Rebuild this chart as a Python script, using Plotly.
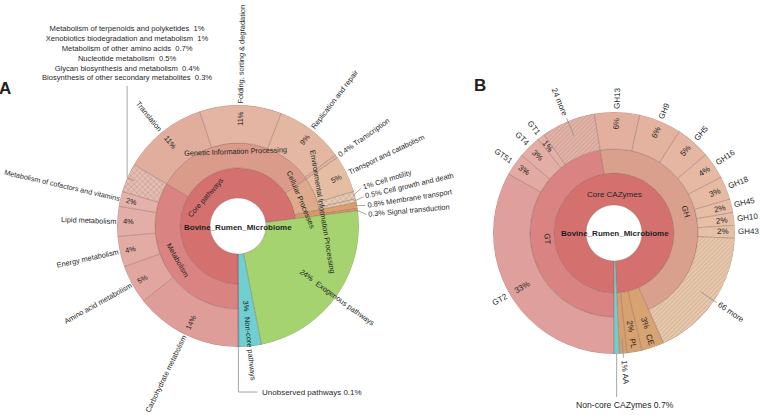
import math
import plotly.graph_objects as go

# ---------------- data: chart A (pathways) ----------------
A_root = "Bovine_Rumen_Microbiome"
A_core = "Core pathways"
A_groups = ["Metabolism", "Genetic Information Processing", "Cellular Processes",
            "Environmental Information Processing"]
A_met_names = ["Carbohydrate metabolism", "Amino acid metabolism", "Energy metabolism",
               "Lipid metabolism", "Metabolism of cofactors and vitamins"]
A_met_vals = [14.4, 5.2, 4.1, 4.0, 2.0]
A_minor_names = ["Metabolism of terpenoids and polyketides", "Xenobiotics biodegradation and metabolism",
                 "Metabolism of other amino acids", "Nucleotide metabolism",
                 "Glycan biosynthesis and metabolism", "Biosynthesis of other secondary metabolites"]
A_minor_vals = [1.0, 1.0, 0.7, 0.5, 0.4, 0.3]
A_gen_names = ["Translation", "Folding, sorting & degradation", "Replication and repair", "Transcription"]
A_gen_vals = [11.4, 11.0, 9.2, 0.4]
A_cell_names = ["Transport and catabolism", "Cell motility", "Cell growth and death"]
A_cell_vals = [5.0, 1.0, 0.5]
A_env_names = ["Membrane transport", "Signal transduction"]
A_env_vals = [0.8, 0.3]
A_exo_name, A_exo_val = "Exogenous pathways", 24.0
A_noncore_name, A_noncore_val = "Non-core pathways", 3.0
A_unobs_name, A_unobs_val = "Unobserved pathways", 0.1

# ---------------- data: chart B (CAZymes) ----------------
B_root = "Bovine_Rumen_Microbiome"
B_core = "Core CAZymes"
B_gt_names = ["GT2", "GT51", "GT4", "GT1", "24 more"]
B_gt_vals = [33.0, 3.0, 3.0, 1.0, 7.2]
B_gh_names = ["GH13", "GH9", "GH5", "GH16", "GH18", "GH45", "GH10", "GH43", "66 more"]
B_gh_vals = [6.0, 5.7, 4.6, 3.6, 3.1, 1.8, 1.7, 1.7, 17.5]
B_oth_names = ["CE", "PL", "AA"]
B_oth_vals = [3.0, 2.0, 1.0]
B_noncore_name, B_noncore_val = "Non-core CAZymes", 0.7

# ---------------- styling ----------------
W, H = 760, 420
CA = (238.0, 226.0)
CB = (614.0, 233.0)
R_OUT = 121.0
RA = [28.0, 58.0, 83.0, R_OUT]
RB = [28.0, 60.0, 84.0, R_OUT]
FONT = "Liberation Sans, Arial, Helvetica, sans-serif"
TXT = "#1f1f1f"
EDGE = "rgba(135,95,90,0.55)"
LEAD = "#8e8e8e"

AW = {' ': 278, '%': 889, '&': 667, ',': 278, '-': 333, '.': 278, '_': 556,
      'a': 556, 'b': 556, 'c': 500, 'd': 556, 'e': 556, 'f': 278, 'g': 556, 'h': 556, 'i': 222,
      'j': 222, 'k': 500, 'l': 222, 'm': 833, 'n': 556, 'o': 556, 'p': 556, 'q': 556, 'r': 333,
      's': 500, 't': 278, 'u': 556, 'v': 500, 'w': 722, 'x': 500, 'y': 500, 'z': 500,
      'A': 667, 'B': 667, 'C': 722, 'D': 722, 'E': 667, 'F': 611, 'G': 778, 'H': 722, 'I': 278,
      'J': 500, 'K': 667, 'L': 556, 'M': 833, 'N': 722, 'O': 778, 'P': 667, 'Q': 778, 'R': 722,
      'S': 667, 'T': 611, 'U': 722, 'V': 667, 'W': 944, 'X': 667, 'Y': 667, 'Z': 611}


def tw(s, size):
    return sum(AW.get(ch, 556) for ch in s) / 1000.0 * size


def pct(v):
    return f"{v:.0f}%" if v >= 1 else f"{v:g}%"


def spans(vals, start, tot):
    out, a = [], start
    for v in vals:
        b = a + v / tot * 360.0
        out.append((a, b))
        a = b
    return out


def mid(sp):
    return (sp[0] + sp[1]) / 2.0


anns, shapes = [], []


def P(c, r, th):
    t = math.radians(th)
    return c[0] + r * math.sin(t), c[1] - r * math.cos(t)


def add_text(px, py, text, size, angle=0.0, xanchor="center", yanchor="middle", bold=False):
    anns.append(dict(x=px / W, y=1 - py / H, xref="paper", yref="paper",
                     text=f"<b>{text}</b>" if bold else text, showarrow=False,
                     textangle=angle, xanchor=xanchor, yanchor=yanchor,
                     font=dict(family=FONT, size=size, color=TXT)))


def radial_angle(th):
    t = th % 360
    return t - 90 if t < 180 else t - 270


def radial_text(c, th, r_start, text, size):
    L = tw(text, size)
    x, y = P(c, r_start + L / 2.0, th)
    add_text(x, y, text, size, radial_angle(th))


def radial_center(c, th, rc, text, size):
    x, y = P(c, rc, th)
    add_text(x, y, text, size, radial_angle(th))


def inside_pct(c, th, text, size, r_end=115.0):
    radial_center(c, th, r_end - tw(text, size) / 2.0, text, size)


def tang_text(c, th, r, text, size):
    a = (th + 180) % 360 - 180
    if a > 90:
        a -= 180
    elif a < -90:
        a += 180
    x, y = P(c, r, th)
    add_text(x, y, text, size, a)


def line_px(x1, y1, x2, y2):
    shapes.append(dict(type="line", xref="paper", yref="paper", x0=x1 / W, y0=1 - y1 / H,
                       x1=x2 / W, y1=1 - y2 / H, line=dict(color=LEAD, width=0.8)))


def seg(c, r1, th1, r2, th2):
    x1, y1 = P(c, r1, th1)
    x2, y2 = P(c, r2, th2)
    line_px(x1, y1, x2, y2)


def bar_trace(wedges, subplot, fg, psize, sol):
    return go.Barpolar(
        theta=[(w[0] + w[1]) / 2.0 for w in wedges],
        width=[w[1] - w[0] for w in wedges],
        base=[w[2] for w in wedges],
        r=[w[3] - w[2] for w in wedges],
        marker=dict(color=[w[4] for w in wedges],
                    line=dict(color=EDGE, width=0.6),
                    pattern=dict(shape=[w[5] for w in wedges],
                                 fgcolor=fg, size=psize, solidity=sol,
                                 fillmode="overlay")),
        subplot=subplot, hoverinfo="skip", showlegend=False)


# ================= chart A geometry =================
totA = (sum(A_met_vals) + sum(A_minor_vals) + sum(A_gen_vals) + sum(A_cell_vals)
        + sum(A_env_vals) + A_exo_val + A_noncore_val + A_unobs_val)
met_sp = spans(A_met_vals + [sum(A_minor_vals)], 180.0, totA)
gen_sp = spans(A_gen_vals, met_sp[-1][1], totA)
cell_sp = spans(A_cell_vals, gen_sp[-1][1], totA)
env_sp = spans(A_env_vals, cell_sp[-1][1], totA)
l1_sp = spans([A_exo_val, A_noncore_val, A_unobs_val], env_sp[-1][1], totA)
met_p = (met_sp[0][0], met_sp[-1][1])
gen_p = (gen_sp[0][0], gen_sp[-1][1])
cell_p = (cell_sp[0][0], cell_sp[-1][1])
env_p = (env_sp[0][0], env_sp[-1][1])
core_p = (180.0, env_p[1])

met_cols = ["#df9d9a", "#e1a6a0", "#e2aba4", "#e3aea7", "#e4b2aa", "#e7bcb1"]
gen_cols = ["#e1ad9d", "#e3b5a2", "#e4b7a2", "#e3b59e"]
cell_cols = ["#e4bda2", "#e9cbb3", "#e9cbb3"]
env_cols = ["#d9a06d", "#d69b66"]

wA = [(core_p[0], core_p[1], RA[0], RA[1], "#d4716f", ""),
      (met_p[0], met_p[1], RA[1], RA[2], "#d98482", ""),
      (gen_p[0], gen_p[1], RA[1], RA[2], "#da9b8a", ""),
      (cell_p[0], cell_p[1], RA[1], RA[2], "#ddab8c", ""),
      (env_p[0], env_p[1], RA[1], RA[2], "#d49a68", "")]
for i, sp in enumerate(met_sp):
    wA.append((sp[0], sp[1], RA[2], RA[3], met_cols[i], "x" if i == len(met_sp) - 1 else ""))
for i, sp in enumerate(gen_sp):
    wA.append((sp[0], sp[1], RA[2], RA[3], gen_cols[i], ""))
for i, sp in enumerate(cell_sp):
    wA.append((sp[0], sp[1], RA[2], RA[3], cell_cols[i], "x" if i > 0 else ""))
for i, sp in enumerate(env_sp):
    wA.append((sp[0], sp[1], RA[2], RA[3], env_cols[i], ""))
for sp, col in zip(l1_sp, ["#a5d36f", "#70d0d1", "#8c8fd0"]):
    wA.append((sp[0], sp[1], RA[0], RA[3], col, ""))

# ================= chart B geometry =================
totB = sum(B_gt_vals) + sum(B_gh_vals) + sum(B_oth_vals) + B_noncore_val
gt_sp = spans(B_gt_vals, 180.0, totB)
gh_sp = spans(B_gh_vals, gt_sp[-1][1], totB)
oth_sp = spans(B_oth_vals, gh_sp[-1][1], totB)
nc_sp = spans([B_noncore_val], oth_sp[-1][1], totB)[0]
gt_p = (gt_sp[0][0], gt_sp[-1][1])
gh_p = (gh_sp[0][0], gh_sp[-1][1])
bcore_p = (180.0, oth_sp[-1][1])

gt_cols = ["#df9f9c", "#e2aaa3", "#e3aea6", "#e4b1a8", "#e3b2a6"]
gh_cols = ["#e3b09f", "#e4b3a0", "#e5b6a2", "#e5b9a3", "#e6bba4", "#e6bda5", "#e7bfa6",
           "#e7c1a7", "#e8c7ab"]
oth_cols = ["#d8a373", "#d7a170", "#d69f6d"]

wB = [(bcore_p[0], bcore_p[1], RB[0], RB[1], "#d4716f", ""),
      (gt_p[0], gt_p[1], RB[1], RB[2], "#d98482", ""),
      (gh_p[0], gh_p[1], RB[1], RB[2], "#daa08e", "")]
for i, sp in enumerate(gt_sp):
    wB.append((sp[0], sp[1], RB[2], RB[3], gt_cols[i], "/" if i == len(gt_sp) - 1 else ""))
for i, sp in enumerate(gh_sp):
    wB.append((sp[0], sp[1], RB[2], RB[3], gh_cols[i], "/" if i == len(gh_sp) - 1 else ""))
for i, sp in enumerate(oth_sp):
    wB.append((sp[0], sp[1], RB[1], RB[3], oth_cols[i], ""))
wB.append((nc_sp[0], nc_sp[1], RB[0], RB[3], "#70d0d1", ""))

# ================= labels A =================
SA = 7.4
add_text(CA[0], CA[1] + 1, A_root, 8, bold=True)
tang_text(CA, mid(core_p), 43, A_core, SA)
tang_text(CA, mid(met_p), 69, A_groups[0], SA)
tang_text(CA, mid(gen_p), 75, A_groups[1], SA)
tang_text(CA, mid(cell_p), 68, A_groups[2], SA)
tang_text(CA, mid(env_p), 86, A_groups[3], SA)

for i, (name, v, sp) in enumerate(zip(A_met_names, A_met_vals, met_sp[:-1])):
    inside_pct(CA, mid(sp), pct(v), SA)
    radial_text(CA, mid(sp), 121 if i == len(A_met_names) - 1 else 122, name,
                7.2 if i == len(A_met_names) - 1 else SA)
for name, v, sp in zip(A_gen_names[:3], A_gen_vals[:3], gen_sp[:3]):
    inside_pct(CA, mid(sp), pct(v), SA)
    radial_text(CA, mid(sp), 123, name, SA)
radial_text(CA, mid(gen_sp[3]), 123, f"{pct(A_gen_vals[3])} {A_gen_names[3]}", SA)
inside_pct(CA, mid(cell_sp[0]), pct(A_cell_vals[0]), SA)
radial_text(CA, mid(cell_sp[0]), 123, A_cell_names[0], SA)

# fanned small labels (cell motility ... signal transduction)
fan_names = A_cell_names[1:] + A_env_names
fan_vals = A_cell_vals[1:] + A_env_vals
fan_sp = cell_sp[1:] + env_sp
fan_mid = sum(mid(s) for s in fan_sp) / len(fan_sp)
for i, (name, v, sp) in enumerate(zip(fan_names, fan_vals, fan_sp)):
    th_l = fan_mid + (i - (len(fan_sp) - 1) / 2.0) * 4.0
    seg(CA, R_OUT - 2, mid(sp), 129, th_l)
    radial_text(CA, th_l, 131, f"{pct(v)} {name}", SA)

# collapsed minor metabolism list
th_g = mid(met_sp[-1])
gx1, gy1 = P(CA, 113, th_g)
gx2, gy2 = P(CA, R_OUT, th_g)
line_px(gx1, gy1, gx2, gy2)
line_px(gx2, gy2, gx2, 86)
add_text(gx2, 84, "<br>".join(f"{n}  {pct(v)}" for n, v in zip(A_minor_names, A_minor_vals)),
         7.6, yanchor="bottom")

# exogenous / non-core / unobserved
radial_center(CA, mid(l1_sp[0]), 85, pct(A_exo_val), SA)
radial_text(CA, mid(l1_sp[0]), 97, A_exo_name, SA)
radial_center(CA, mid(l1_sp[1]), 80, pct(A_noncore_val), SA)
radial_text(CA, mid(l1_sp[1]), 92, A_noncore_name, SA)
ux, uy = P(CA, R_OUT, mid(l1_sp[2]))
line_px(ux, uy, ux, 392)
line_px(ux, 392, ux + 19, 392)
add_text(ux + 22, 392, f"{A_unobs_name} {pct(A_unobs_val)}", 8, xanchor="left")

# ================= labels B =================
SB = 8
add_text(CB[0] + 1, CB[1], B_root, 8, bold=True)
tang_text(CB, 0.0, 39, B_core, SB)
tang_text(CB, mid(gt_p), 67, "GT", SB)
tang_text(CB, mid(gh_p), 75, "GH", SB)

for name, v, sp in list(zip(B_gt_names, B_gt_vals, gt_sp)) + list(zip(B_gh_names, B_gh_vals, gh_sp)):
    if name.endswith("more"):
        seg(CB, 105, mid(sp), 124, mid(sp))
        radial_text(CB, mid(sp), 127, name, SB)
    else:
        inside_pct(CB, mid(sp), pct(v), SB)
        radial_text(CB, mid(sp), 124, name, SB)

for name, v, sp in zip(B_oth_names[:2], B_oth_vals[:2], oth_sp[:2]):
    radial_center(CB, mid(sp), 95, pct(v), SB)
    radial_center(CB, mid(sp), 112, name, SB)
seg(CB, 106, mid(oth_sp[2]), 125, mid(oth_sp[2]))
radial_text(CB, mid(oth_sp[2]), 128, f"{pct(B_oth_vals[2])} {B_oth_names[2]}", SB)

nx, ny = P(CB, R_OUT, mid(nc_sp))
line_px(nx, ny, nx, 397)
add_text(nx + 8, 405, f"{B_noncore_name} {pct(B_noncore_val)}", 8.6)

# panel letters
add_text(5, 88, "A", 17, bold=True)
add_text(480, 86, "B", 17, bold=True)

# ================= figure =================
fig = go.Figure()
fig.add_trace(bar_trace(wA, "polar", "rgba(150,105,95,0.45)", 4, 0.15))
fig.add_trace(bar_trace(wB, "polar2", "#dcb49c", 3, 0.12))


def polar_layout(c):
    return dict(domain=dict(x=[(c[0] - R_OUT) / W, (c[0] + R_OUT) / W],
                            y=[1 - (c[1] + R_OUT) / H, 1 - (c[1] - R_OUT) / H]),
                radialaxis=dict(range=[0, R_OUT], visible=False, showgrid=False),
                angularaxis=dict(visible=False, showgrid=False, rotation=90, direction="clockwise"),
                bgcolor="rgba(0,0,0,0)", bargap=0)


fig.update_layout(width=W, height=H, margin=dict(l=0, r=0, t=0, b=0),
                  paper_bgcolor="white", plot_bgcolor="white", showlegend=False,
                  polar=polar_layout(CA), polar2=polar_layout(CB),
                  annotations=anns, shapes=shapes,
                  font=dict(family=FONT, color=TXT))
fig.write_html("out.html", config={"displayModeBar": False},
               post_script="document.body.style.margin='0px';document.body.style.overflow='hidden';")
